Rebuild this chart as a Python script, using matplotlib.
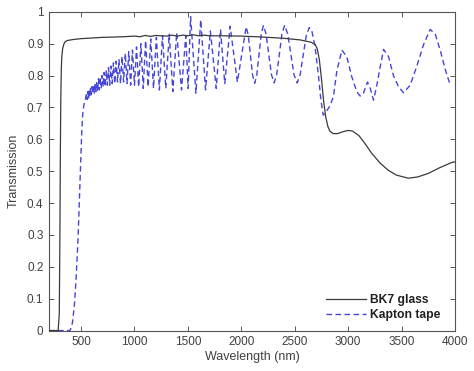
import matplotlib
matplotlib.use("Agg")
import matplotlib.pyplot as plt

plt.rcParams['font.family'] = ['Liberation Sans', 'DejaVu Sans']

# ---- data ----
bk7_wl = [200, 285, 296, 302, 306, 310, 315, 320, 328, 338, 350, 370, 420, 500,
          700, 900, 1000, 1050, 1100, 1150, 1200, 1300, 1350, 1400, 1450, 1500,
          1550, 1600, 1650, 1700, 1800, 2000, 2200, 2400, 2550, 2650, 2690, 2710,
          2730, 2750, 2770, 2790, 2810, 2830, 2860, 2900, 2950, 3000, 3040, 3100,
          3150, 3221, 3300, 3375, 3450, 3562, 3650, 3749, 3850, 3973, 4000]
bk7_t = [0.0, 0.0, 0.05, 0.3, 0.55, 0.72, 0.82, 0.86, 0.885, 0.898, 0.906, 0.91,
         0.913, 0.916, 0.92, 0.922, 0.924, 0.922, 0.926, 0.923, 0.926, 0.924, 0.927,
         0.924, 0.927, 0.925, 0.928, 0.925, 0.927, 0.925, 0.925, 0.924, 0.921, 0.917,
         0.912, 0.905, 0.898, 0.885, 0.85, 0.79, 0.72, 0.67, 0.64, 0.625, 0.618,
         0.618, 0.624, 0.628, 0.626, 0.612, 0.59, 0.556, 0.525, 0.503, 0.488, 0.478,
         0.482, 0.493, 0.51, 0.528, 0.529]

kapton_wl = [200, 300, 395, 410, 422, 440, 453, 465, 474, 484, 492, 500, 506, 512,
             518, 528, 540,
             552, 558, 564, 570, 576, 582, 589, 596, 602, 609, 616, 624, 631, 639,
             646, 654, 663, 671, 679, 688, 697, 707, 716, 726, 736, 746, 757, 768,
             779, 791, 803, 815, 828, 841, 855, 869, 883, 898, 914, 930, 946, 964,
             981, 1000, 1019, 1039, 1060, 1082, 1104, 1128, 1152, 1178, 1205, 1233,
             1262, 1293, 1325, 1359, 1395, 1440, 1480, 1502, 1525, 1575, 1620, 1665,
             1710, 1765, 1805, 1845, 1895, 1963,
             2045, 2065, 2105, 2125, 2145, 2186, 2206, 2231, 2282, 2307, 2331, 2381,
             2405, 2434, 2493, 2522, 2550, 2608, 2636, 2660, 2690, 2722, 2744, 2766,
             2790, 2830, 2862, 2894, 2941, 2987, 3034, 3081, 3112, 3143, 3181, 3206,
             3237, 3268, 3300, 3331, 3377, 3424, 3471, 3518, 3580, 3643, 3705, 3767,
             3815, 3861, 3908, 3955]
kapton_t = [0.0, 0.0, 0.0, 0.01, 0.03, 0.09, 0.16, 0.24, 0.31, 0.41, 0.48, 0.56,
            0.62, 0.66, 0.69, 0.71, 0.725,
            0.745, 0.725, 0.75, 0.73, 0.755, 0.735, 0.76, 0.74, 0.765, 0.745, 0.77,
            0.745, 0.775, 0.75, 0.78, 0.75, 0.79, 0.755, 0.795, 0.76, 0.80, 0.765,
            0.81, 0.765, 0.815, 0.77, 0.825, 0.77, 0.83, 0.775, 0.84, 0.775, 0.845,
            0.78, 0.85, 0.775, 0.86, 0.78, 0.87, 0.775, 0.875, 0.77, 0.88, 0.77,
            0.89, 0.765, 0.90, 0.76, 0.91, 0.765, 0.915, 0.76, 0.92, 0.755, 0.925,
            0.76, 0.93, 0.75, 0.935, 0.755, 0.925, 0.76, 0.985, 0.745, 0.975, 0.755,
            0.94, 0.76, 0.945, 0.775, 0.955, 0.78,
            0.953, 0.927, 0.802, 0.776, 0.803, 0.93, 0.957, 0.931, 0.803, 0.777,
            0.803, 0.932, 0.958, 0.931, 0.803, 0.777, 0.802, 0.926, 0.951, 0.94,
            0.89, 0.80, 0.725, 0.676, 0.685, 0.705, 0.735, 0.815, 0.88, 0.859, 0.796,
            0.749, 0.736, 0.745, 0.78, 0.76, 0.723, 0.77, 0.828, 0.882, 0.86, 0.80,
            0.765, 0.746, 0.77, 0.83, 0.897, 0.945, 0.93, 0.88, 0.82, 0.77]

labels = ["BK7 glass", "Kapton tape"]
xticks = [500, 1000, 1500, 2000, 2500, 3000, 3500, 4000]
yticks = [0, 0.1, 0.2, 0.3, 0.4, 0.5, 0.6, 0.7, 0.8, 0.9, 1]

# ---- figure ----
fig = plt.figure(figsize=(4.74, 3.71), dpi=100)
ax = fig.add_axes([0.1034, 0.109, 0.8566, 0.859])

ax.plot(bk7_wl, bk7_t, color='#3a3a3a', lw=0.9, label=labels[0], zorder=3)
ax.plot(kapton_wl, kapton_t, color='#4545dc', lw=1.0, dashes=(4, 2.5),
        label=labels[1], zorder=2)

ax.set_xlim(200, 4000)
ax.set_ylim(0, 1)
ax.set_xticks(xticks)
ax.set_yticks(yticks)
ax.set_yticklabels([('%g' % v) for v in yticks])

txtc = '#404040'
ax.tick_params(direction='in', top=True, right=True, length=3.5, width=0.7,
               colors='#555555', labelcolor=txtc, labelsize=8.5, pad=4)
for s in ax.spines.values():
    s.set_color('#555555')
    s.set_linewidth(0.8)

ax.set_xlabel('Wavelength (nm)', fontsize=9, color=txtc, labelpad=2)
ax.set_ylabel('Transmission', fontsize=9, color=txtc, labelpad=5)

leg = ax.legend(loc='lower right', frameon=False, handlelength=3.3,
                handletextpad=0.3, labelspacing=0.25,
                prop={'weight': 'bold', 'size': 8.7},
                bbox_to_anchor=(0.99, -0.005))
for t in leg.get_texts():
    t.set_color('#202020')

fig.savefig('out.png', dpi=100)
